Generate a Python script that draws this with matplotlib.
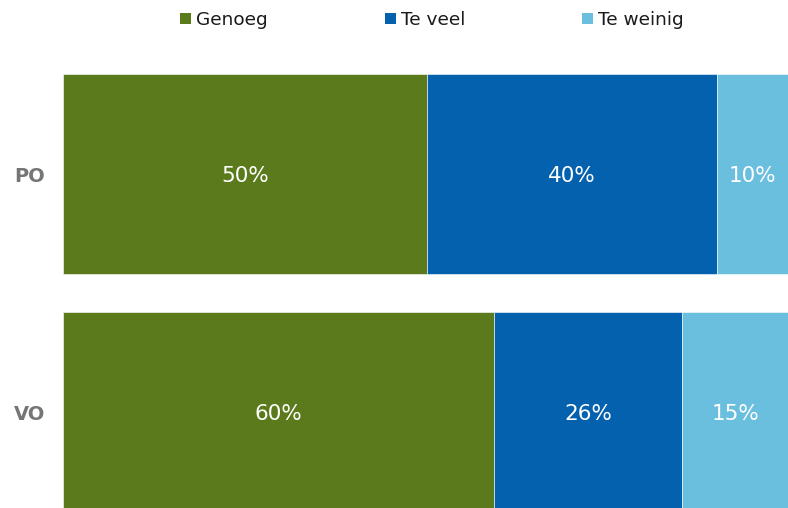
import matplotlib.pyplot as plt
from matplotlib.patches import Patch

# data
groups = ["PO", "VO"]
series = ["Genoeg", "Te veel", "Te weinig"]
genoeg = [50.2, 59.5]
te_veel = [40.0, 25.9]
te_weinig = [9.8, 14.6]
colors = ["#5a7a1c", "#0461ae", "#6abede"]

fig = plt.figure(figsize=(7.88, 5.08), dpi=100)
# axes runs from x=63px to the right edge, and off the bottom
ax = fig.add_axes([63 / 788, 0, 725 / 788, 468 / 508])

values = [genoeg, te_veel, te_weinig]
ypos = list(range(len(groups)))
left = [0.0] * len(groups)
for vals, col in zip(values, colors):
    bars = ax.barh(ypos, vals, left=left, height=200 / 238, color=col,
                   edgecolor="white", linewidth=0.4)
    for b, v in zip(bars, vals):
        ax.text(b.get_x() + b.get_width() / 2, b.get_y() + b.get_height() / 2 + 0.008,
                f"{round(v)}%", ha="center", va="center", color="white", fontsize=15.5)
    left = [l + v for l, v in zip(left, vals)]

ax.set_xlim(0, max(left))
ax.set_ylim(1 + 96 / 238, -134 / 238)
ax.set_yticks(ypos)
ax.set_yticklabels(groups, fontsize=14, fontweight="bold", color="#767676")
ax.tick_params(axis="y", length=0, pad=13)
ax.set_xticks([])
for s in ax.spines.values():
    s.set_visible(False)

handles = [Patch(facecolor=c, edgecolor="none") for c in colors]
fig.legend(handles, series, loc="center", bbox_to_anchor=(432 / 788, 1 - 20 / 508),
           ncol=3, frameon=False, fontsize=13.3, handlelength=0.6, handleheight=0.6,
           handletextpad=0.3, columnspacing=6.3, labelcolor="#1a1a1a")

fig.savefig("out.png", dpi=100)
